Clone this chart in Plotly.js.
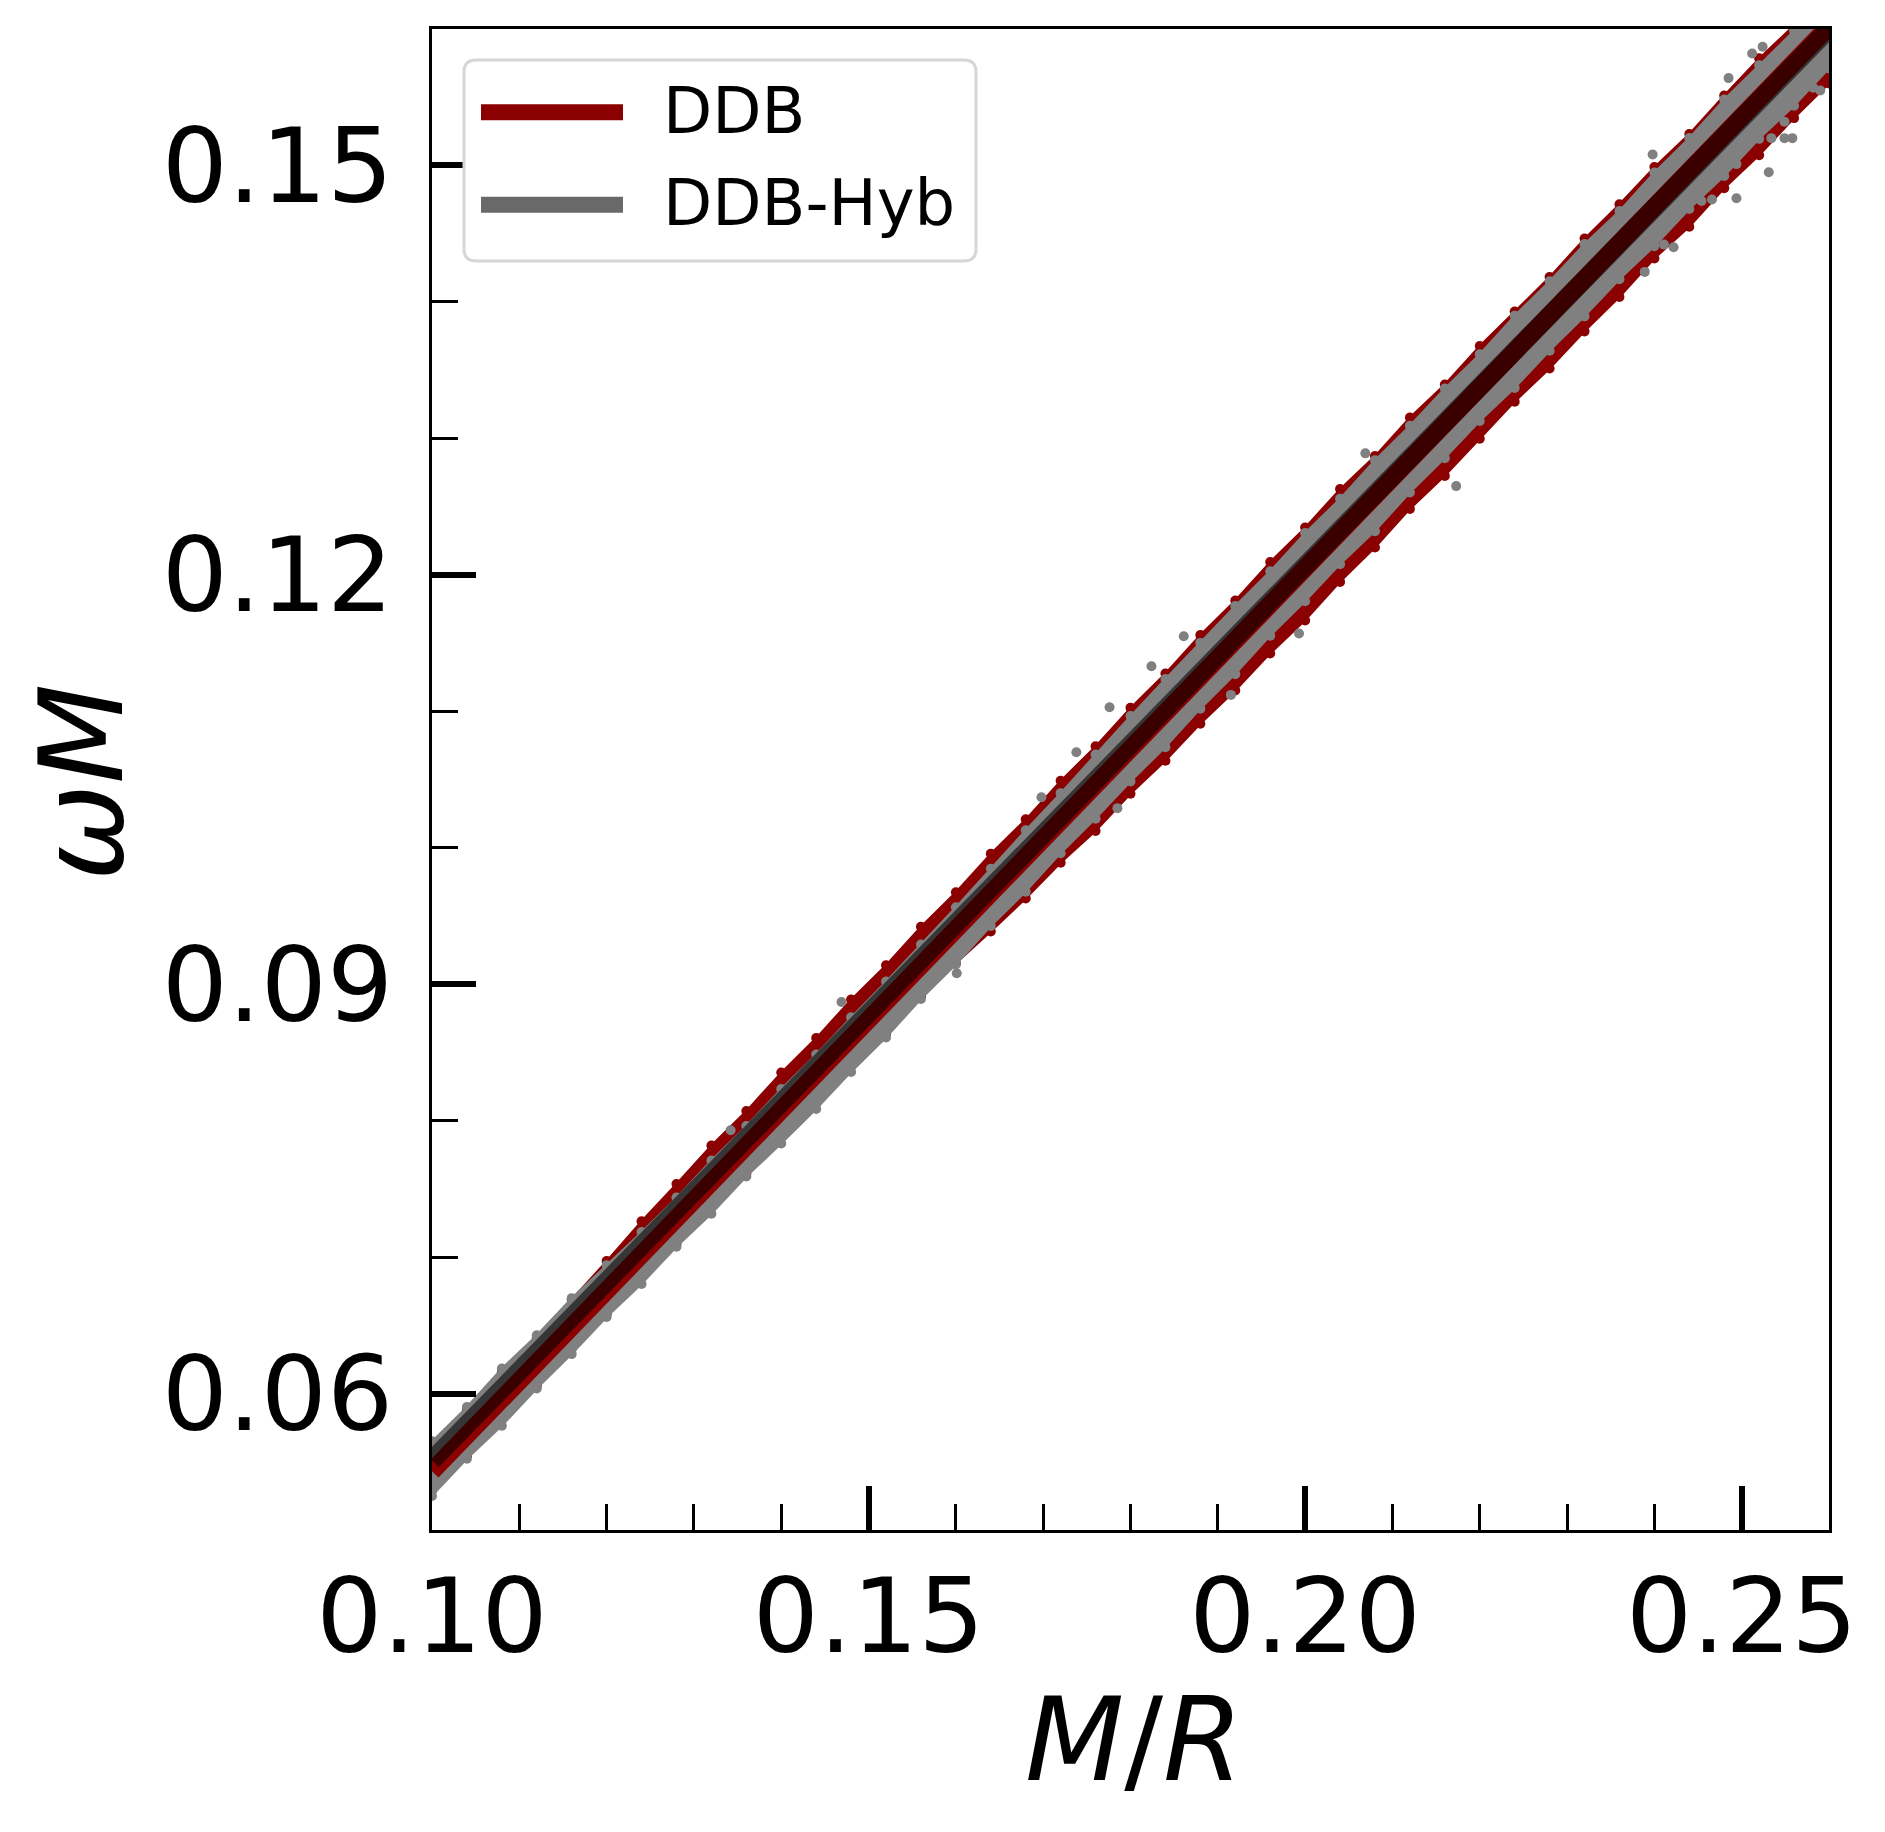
<!DOCTYPE html>
<html><head><meta charset="utf-8">
<script src="https://cdn.plot.ly/plotly-3.0.1.min.js"></script>
<style>html,body{margin:0;padding:0;background:#fff;} #chart{width:1885px;height:1832px;}</style>
</head><body><div id="chart"></div>
<script>
// Band edges of the two scatter clouds
const edgeX = [0.100,0.104,0.108,0.112,0.116,0.120,0.124,0.128,0.132,0.136,0.140,0.144,0.148,0.152,0.156,0.160,0.164,0.168,0.172,0.176,0.180,0.184,0.188,0.192,0.196,0.200,0.204,0.208,0.212,0.216,0.220,0.224,0.228,0.232,0.236,0.240,0.244,0.248,0.252,0.256,0.260];
const ddbUpper = [0.05610,0.05882,0.06154,0.06407,0.06689,0.06971,0.07263,0.07536,0.07818,0.08070,0.08352,0.08605,0.08887,0.09139,0.09421,0.09674,0.09956,0.10208,0.10490,0.10743,0.11025,0.11277,0.11559,0.11812,0.12094,0.12346,0.12628,0.12870,0.13153,0.13395,0.13677,0.13929,0.14182,0.14464,0.14716,0.14988,0.15231,0.15513,0.15785,0.16027,0.16300];
const ddbLower = [0.05290,0.05542,0.05814,0.06057,0.06329,0.06581,0.06853,0.07096,0.07368,0.07610,0.07882,0.08125,0.08397,0.08639,0.08911,0.09154,0.09386,0.09628,0.09890,0.10123,0.10395,0.10637,0.10909,0.11152,0.11424,0.11666,0.11948,0.12200,0.12483,0.12725,0.12997,0.13269,0.13512,0.13784,0.14036,0.14318,0.14551,0.14833,0.15075,0.15347,0.15600];
const hybUpper = [0.05650,0.05902,0.06184,0.06427,0.06699,0.06941,0.07183,0.07436,0.07708,0.07960,0.08232,0.08485,0.08757,0.09019,0.09291,0.09564,0.09846,0.10128,0.10400,0.10683,0.10965,0.11237,0.11501,0.11772,0.12026,0.12306,0.12558,0.12840,0.13093,0.13365,0.13617,0.13899,0.14152,0.14424,0.14666,0.14948,0.15201,0.15483,0.15735,0.15987,0.16270];
const hybLower = [0.05250,0.05522,0.05764,0.06037,0.06289,0.06561,0.06803,0.07076,0.07318,0.07590,0.07832,0.08085,0.08357,0.08609,0.08891,0.09144,0.09426,0.09678,0.09960,0.10213,0.10485,0.10737,0.11019,0.11272,0.11554,0.11806,0.12078,0.12320,0.12603,0.12855,0.13127,0.13369,0.13642,0.13894,0.14166,0.14408,0.14681,0.14923,0.15195,0.15437,0.15710];
// Isolated DDB-Hyb points
const hybOutX = [0.1342,0.1469,0.1601,0.1698,0.1738,0.1776,0.1785,0.1824,0.1861,0.1915,0.1993,0.2069,0.2173,0.2389,0.2398,0.2411,0.2422,0.2429,0.2454,0.2466,0.2485,0.2494,0.2494,0.2512,0.2524,0.2531,0.2534,0.2549,0.2549,0.2558,0.2582,0.2590];
const hybOutY = [0.0793,0.0887,0.0908,0.1037,0.1070,0.1103,0.1029,0.1133,0.1155,0.1112,0.1157,0.1289,0.1265,0.1422,0.1508,0.1442,0.1440,0.1465,0.1474,0.1475,0.1564,0.1476,0.1501,0.1582,0.1587,0.1495,0.1520,0.1532,0.1520,0.1520,0.1557,0.1555];
// Fit lines
const fitX = [0.10, 0.26];
const ddbFitY = [0.0543, 0.1602];
const hybFitY = [0.0551, 0.1600];
const seriesNames = ['DDB', 'DDB-Hyb'];
const pointColors = ['#8b0000', '#808080'];
const legendColors = ['#8b0000', '#696969'];
const xTitle = '<i>M</i>/<i>R</i>';
const yTitle = '<i>ωM</i>';

const FONT = 'DejaVu Sans';
const data = [
  {x: edgeX, y: ddbLower, name: seriesNames[0], mode: 'lines+markers', line: {color: pointColors[0], width: 2}, marker: {size: 10, color: pointColors[0]}, hoverinfo: 'skip'},
  {x: edgeX, y: ddbUpper, name: seriesNames[0], mode: 'lines+markers', fill: 'tonexty', fillcolor: pointColors[0], line: {color: pointColors[0], width: 2}, marker: {size: 10, color: pointColors[0]}, hoverinfo: 'skip'},
  {x: edgeX, y: hybLower, name: seriesNames[1], mode: 'lines+markers', line: {color: pointColors[1], width: 2}, marker: {size: 10, color: pointColors[1]}, hoverinfo: 'skip'},
  {x: edgeX, y: hybUpper, name: seriesNames[1], mode: 'lines+markers', fill: 'tonexty', fillcolor: pointColors[1], line: {color: pointColors[1], width: 2}, marker: {size: 10, color: pointColors[1]}, hoverinfo: 'skip'},
  {x: hybOutX, y: hybOutY, name: seriesNames[1], mode: 'markers', marker: {size: 10, color: pointColors[1]}, hoverinfo: 'skip'},
  {x: fitX, y: ddbFitY, name: seriesNames[0] + ' fit', mode: 'lines', line: {color: '#8b0000', width: 18}, hoverinfo: 'skip'},
  {x: fitX, y: hybFitY, name: seriesNames[1] + ' fit', mode: 'lines', line: {color: 'rgba(0,0,0,0.58)', width: 19}, hoverinfo: 'skip'}
];

// Legend and axis titles drawn in paper coordinates
const plotL = 432, plotT = 29, plotW = 1397, plotH = 1501;
const px = v => (v - plotL) / plotW;
const py = v => 1 - (v - plotT) / plotH;
const bx0 = px(464), bx1 = px(976), byT = py(60), byB = py(261);
const rx = 12 / plotW, ry = 12 / plotH;
const boxPath = `M${bx0+rx},${byT} L${bx1-rx},${byT} Q${bx1},${byT} ${bx1},${byT-ry} L${bx1},${byB+ry} Q${bx1},${byB} ${bx1-rx},${byB} L${bx0+rx},${byB} Q${bx0},${byB} ${bx0},${byB+ry} L${bx0},${byT-ry} Q${bx0},${byT} ${bx0+rx},${byT} Z`;
const rowY = [py(111), py(203.5)];
const shapes = [
  {type: 'path', xref: 'paper', yref: 'paper', path: boxPath, fillcolor: '#ffffff', line: {color: '#d6d6d6', width: 3}, layer: 'above'}
];
const annotations = [
  {xref: 'paper', yref: 'paper', x: px(1134), y: py(1740), xanchor: 'center', yanchor: 'middle', text: xTitle, showarrow: false, font: {family: FONT, size: 115, color: '#000'}},
  {xref: 'paper', yref: 'paper', x: px(81), y: py(783), xanchor: 'center', yanchor: 'middle', textangle: -90, text: yTitle, showarrow: false, font: {family: FONT, size: 116, color: '#000'}}
];
seriesNames.forEach((n, i) => {
  shapes.push({type: 'line', xref: 'paper', yref: 'paper', x0: px(481), x1: px(623), y0: rowY[i] - 0.0008, y1: rowY[i] - 0.0008, line: {color: legendColors[i], width: 16}, layer: 'above'});
  annotations.push({xref: 'paper', yref: 'paper', x: px(661), y: rowY[i], xanchor: 'left', yanchor: 'middle', text: n, showarrow: false, font: {family: FONT, size: 64, color: '#000'}});
});

const axisCommon = {
  showline: true, linecolor: '#000', linewidth: 3, mirror: true,
  showgrid: false, zeroline: false,
  ticks: 'inside', ticklen: 44, tickwidth: 6, tickcolor: '#000',
  tickfont: {family: FONT, size: 104, color: '#000'},
  tickformat: '.2f',
  minor: {ticks: 'inside', ticklen: 26, tickwidth: 3, tickcolor: '#000', showgrid: false}
};

const layout = {
  width: 1885, height: 1832,
  margin: {l: 432, r: 56, t: 29, b: 302, pad: 0},
  paper_bgcolor: '#fff', plot_bgcolor: '#fff',
  showlegend: false,
  shapes: shapes,
  annotations: annotations,
  xaxis: Object.assign({}, axisCommon, {
    range: [0.10, 0.26], tickmode: 'linear', tick0: 0.10, dtick: 0.05,
    minor: Object.assign({}, axisCommon.minor, {dtick: 0.01, tick0: 0.10}),
    ticklabelstandoff: -6
  }),
  yaxis: Object.assign({}, axisCommon, {
    range: [0.05, 0.16], tickmode: 'linear', tick0: 0.06, dtick: 0.03,
    minor: Object.assign({}, axisCommon.minor, {dtick: 0.01, tick0: 0.05}),
    ticklabelstandoff: 15
  }),
  hovermode: false
};

Plotly.newPlot('chart', data, layout, {staticPlot: true, displayModeBar: false});
</script>
</body></html>
